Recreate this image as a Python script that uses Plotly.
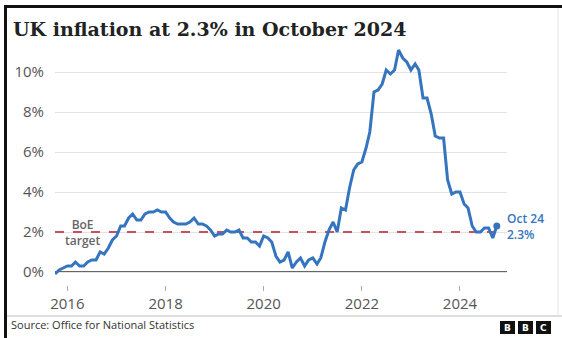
import pandas as pd
import plotly.graph_objects as go

# Monthly CPI annual rate (%), October 2015 to October 2024
months = pd.date_range("2015-10-01", "2024-10-01", freq="MS")
cpi = [
    -0.1, 0.1, 0.2,                                                   # 2015 Oct-Dec
    0.3, 0.3, 0.5, 0.3, 0.3, 0.5, 0.6, 0.6, 1.0, 0.9, 1.2, 1.6,       # 2016
    1.8, 2.3, 2.3, 2.7, 2.9, 2.6, 2.6, 2.9, 3.0, 3.0, 3.1, 3.0,       # 2017
    3.0, 2.7, 2.5, 2.4, 2.4, 2.4, 2.5, 2.7, 2.4, 2.4, 2.3, 2.1,       # 2018
    1.8, 1.9, 1.9, 2.1, 2.0, 2.0, 2.1, 1.7, 1.7, 1.5, 1.5, 1.3,       # 2019
    1.8, 1.7, 1.5, 0.8, 0.5, 0.6, 1.0, 0.2, 0.5, 0.7, 0.3, 0.6,       # 2020
    0.7, 0.4, 0.7, 1.5, 2.1, 2.5, 2.0, 3.2, 3.1, 4.2, 5.1, 5.4,       # 2021
    5.5, 6.2, 7.0, 9.0, 9.1, 9.4, 10.1, 9.9, 10.1, 11.1, 10.7, 10.5,  # 2022
    10.1, 10.4, 10.1, 8.7, 8.7, 7.9, 6.8, 6.7, 6.7, 4.6, 3.9, 4.0,    # 2023
    4.0, 3.4, 3.2, 2.3, 2.0, 2.0, 2.2, 2.2, 1.7, 2.3,                 # 2024
]
boe_target = 2.0
year_ticks = ["2016-01-01", "2018-01-01", "2020-01-01", "2022-01-01", "2024-01-01"]
year_labels = ["2016", "2018", "2020", "2022", "2024"]
pct_ticks = [0, 2, 4, 6, 8, 10]
pct_labels = ["0%", "2%", "4%", "6%", "8%", "10%"]

W, H = 562, 338
L, R, T, B = 55, 507, 45, 285  # plot area in pixels


def px(x):
    return (x - L) / (R - L)


def py(y):
    return (B - y) / (B - T)


BLUE = "#3574bf"
GREY_TXT = "#555555"

fig = go.Figure()

# Bank of England target
fig.add_trace(go.Scatter(
    x=[months[0], months[-1]], y=[boe_target, boe_target], mode="lines",
    line=dict(color="#c9505f", width=2, dash="dash"), hoverinfo="skip",
))

# CPI line
fig.add_trace(go.Scatter(
    x=months, y=cpi, mode="lines",
    line=dict(color=BLUE, width=3), hoverinfo="skip",
))

# Latest point marker
fig.add_trace(go.Scatter(
    x=[months[-1]], y=[cpi[-1]], mode="markers",
    marker=dict(color=BLUE, size=7), hoverinfo="skip",
))

annotations = [
    dict(text="<b>UK inflation at 2.3% in October 2024</b>", xref="paper", yref="paper",
         x=px(11), y=py(29), xanchor="left", yanchor="middle", showarrow=False,
         font=dict(family="DejaVu Serif", size=19, color="#222222")),
    dict(text="BoE<br>target", xref="x", yref="y", x="2016-04-20", y=boe_target,
         xanchor="center", yanchor="middle", showarrow=False, align="center",
         font=dict(family="Open Sans", size=12, color="#666666", weight=600)),
    dict(text="Oct 24<br>2.3%", xref="x", yref="y", x=months[-1], y=cpi[-1],
         xanchor="left", yanchor="middle", xshift=8, showarrow=False, align="left",
         font=dict(family="Open Sans", size=12, color=BLUE, weight=600)),
    dict(text="Source: Office for National Statistics", xref="paper", yref="paper",
         x=px(9), y=py(324), xanchor="left", yanchor="middle", showarrow=False,
         font=dict(family="Open Sans", size=11, color="#333333")),
]

shapes = [
    # zero baseline
    dict(type="line", xref="paper", yref="y", x0=0, x1=1, y0=0, y1=0,
         line=dict(color="#666666", width=2), layer="below"),
    # footer rule
    dict(type="line", xref="paper", yref="paper", x0=px(4), x1=px(562), y0=py(316), y1=py(316),
         line=dict(color="#bbbbbb", width=1)),
    # outer frame
    dict(type="line", xref="paper", yref="paper", x0=px(5.5), x1=px(5.5), y0=py(5), y1=py(338),
         line=dict(color="#111111", width=3)),
    dict(type="line", xref="paper", yref="paper", x0=px(4), x1=px(562), y0=py(6.5), y1=py(6.5),
         line=dict(color="#111111", width=3)),
    dict(type="line", xref="paper", yref="paper", x0=px(558), x1=px(558), y0=py(8), y1=py(316),
         line=dict(color="#e6e6e6", width=1)),
]

# BBC blocks
for i, letter in enumerate("BBC"):
    x0 = 500 + i * 18
    shapes.append(dict(type="rect", xref="paper", yref="paper",
                       x0=px(x0), x1=px(x0 + 15), y0=py(334), y1=py(321),
                       fillcolor="#111111", line=dict(width=0)))
    annotations.append(dict(text=f"<b>{letter}</b>", xref="paper", yref="paper",
                            x=px(x0 + 7.5), y=py(327.5), xanchor="center", yanchor="middle",
                            showarrow=False,
                            font=dict(family="DejaVu Sans", size=9, color="#ffffff")))

fig.update_layout(
    width=W, height=H,
    margin=dict(l=L, r=W - R, t=T, b=H - B, pad=0),
    paper_bgcolor="#ffffff", plot_bgcolor="#ffffff",
    showlegend=False,
    annotations=annotations, shapes=shapes,
    font=dict(family="Open Sans", color=GREY_TXT),
)

fig.update_xaxes(
    type="date", range=["2015-10-01", "2024-12-16"],
    tickvals=year_ticks, ticktext=year_labels,
    ticks="outside", ticklen=5, tickcolor="#aaaaaa", tickwidth=1,
    showgrid=False, zeroline=False, showline=False,
    tickfont=dict(family="Open Sans", size=15, color=GREY_TXT),
)
fig.update_yaxes(
    range=[(B - 272) / -20, (272 - T) / 20],
    tickvals=pct_ticks, ticktext=pct_labels,
    showgrid=True, gridcolor="#e3e3e3", gridwidth=1,
    zeroline=False, showline=False, ticks="",
    ticklabelstandoff=10,
    tickfont=dict(family="Open Sans", size=15, color=GREY_TXT),
)

fig.write_html("out.html")
